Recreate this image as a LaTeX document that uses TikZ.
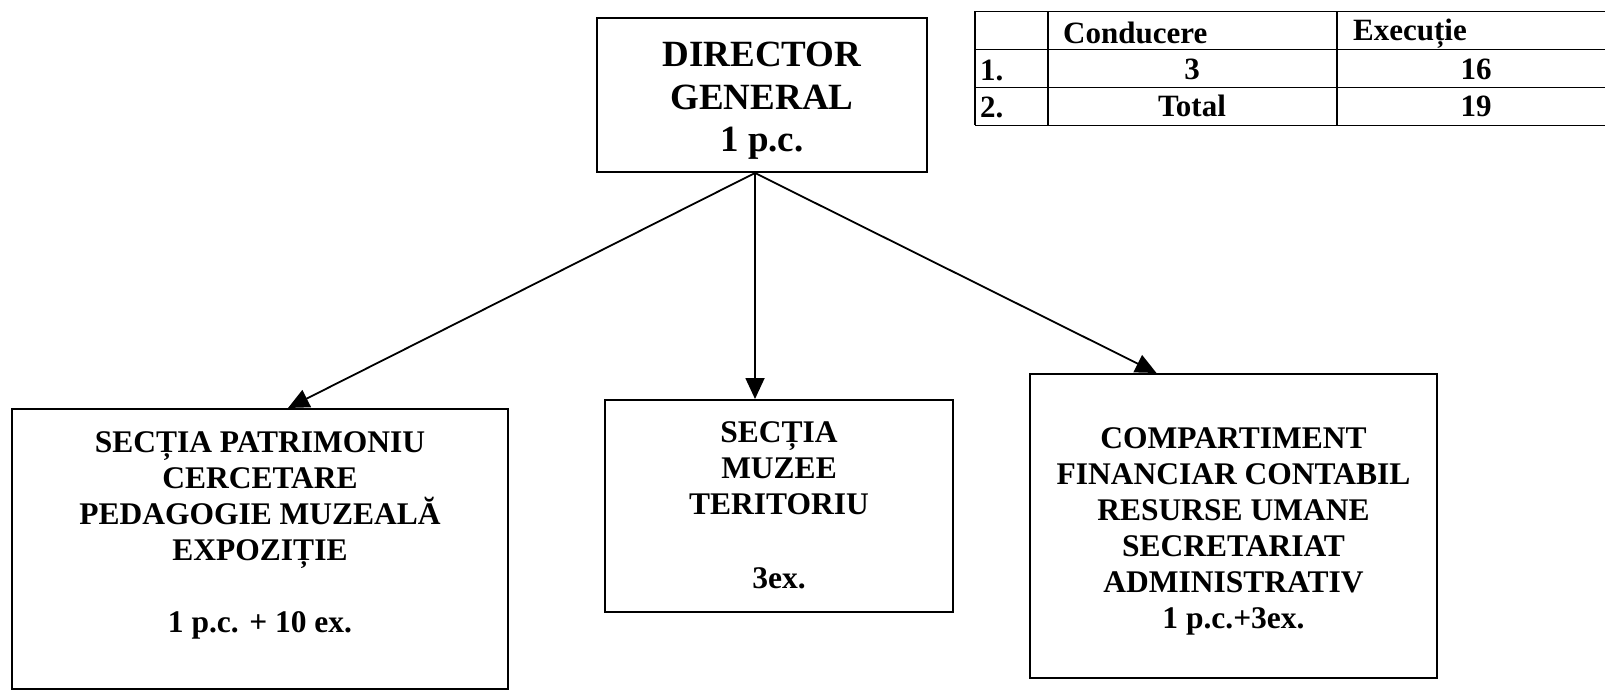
\documentclass[tikz,border=0pt]{standalone}
\usepackage{fontspec}
\setmainfont{Liberation Serif}
\usetikzlibrary{arrows.meta,positioning}
\tikzset{
	box/.style={rectangle,draw=black,line width=2pt,inner sep=0pt},
	boxtxt/.style={align=center,inner sep=0pt,font=\bfseries\fontsize{31.5}{36}\selectfont},
	dirtxt/.style={align=center,inner sep=0pt,font=\bfseries\fontsize{37}{42.5}\selectfont},
	arr/.style={line width=1.8pt,-{Triangle[length=21pt,width=19pt]}},
	tab/.style={line width=1.5pt},
	cell/.style={inner sep=0pt,anchor=base,font=\bfseries\fontsize{31}{34}\selectfont}
}

\begin{document}
\begin{tikzpicture}[x=1pt,y=-1pt]
	\useasboundingbox (0,0) rectangle (1605,695);
	\node (dir) [box,minimum width=330pt,minimum height=154pt] at (762,95) {};
	\node (dirt) [dirtxt,below=25pt of dir.north] {DIRECTOR\\GENERAL\\1 p.c.};
	\node (secp) [box,minimum width=496pt,minimum height=280pt] at (260,549) {};
	\node (secpt) [boxtxt,below=23pt of secp.north] {SECȚIA PATRIMONIU\\CERCETARE\\PEDAGOGIE MUZEALĂ\\EXPOZIȚIE\\[36pt]1 p.c. + 10 ex.};
	\node (muz) [box,minimum width=348pt,minimum height=212pt] at (779,506) {};
	\node (muzt) [boxtxt,below=22pt of muz.north] {SECȚIA\\MUZEE\\TERITORIU\\[38pt]3ex.};
	\node (comp) [box,minimum width=407pt,minimum height=304pt] at (1233.5,526) {};
	\node (compt) [boxtxt,below=54pt of comp.north] {COMPARTIMENT\\FINANCIAR CONTABIL\\RESURSE UMANE\\SECRETARIAT\\ADMINISTRATIV\\1 p.c.+3ex.};
	\coordinate (dirfoot) at ([xshift=-7pt]dir.south);
	\draw[arr] (dirfoot) -- ([xshift=28pt]secp.north);
	\draw[arr] (dirfoot) -- (dirfoot |- muz.north);
	\draw[arr] (dirfoot) -- ([xshift=-77pt]comp.north);
	% tabel
	\foreach \y in {11.5,49.5,87.5,125.5} \draw[tab] (975,\y) -- (1605,\y);
	\foreach \x in {975,1048,1337} \draw[tab] (\x,11.5) -- (\x,125.5);
	\node (hcond) [cell,anchor=base west] at (1063,44) {Conducere};
	\node (hexec) [cell,anchor=base west] at (1353,41) {Execuție};
	\node (r1no) [cell,anchor=base west] at (980,81) {1.};
	\node (r1cond) [cell] at (1192,80) {3};
	\node (r1exec) [cell] at (1476,80) {16};
	\node (r2no) [cell,anchor=base west] at (980,118) {2.};
	\node (r2cond) [cell] at (1192,117) {Total};
	\node (r2exec) [cell] at (1476,117) {19};
\end{tikzpicture}
\end{document}
